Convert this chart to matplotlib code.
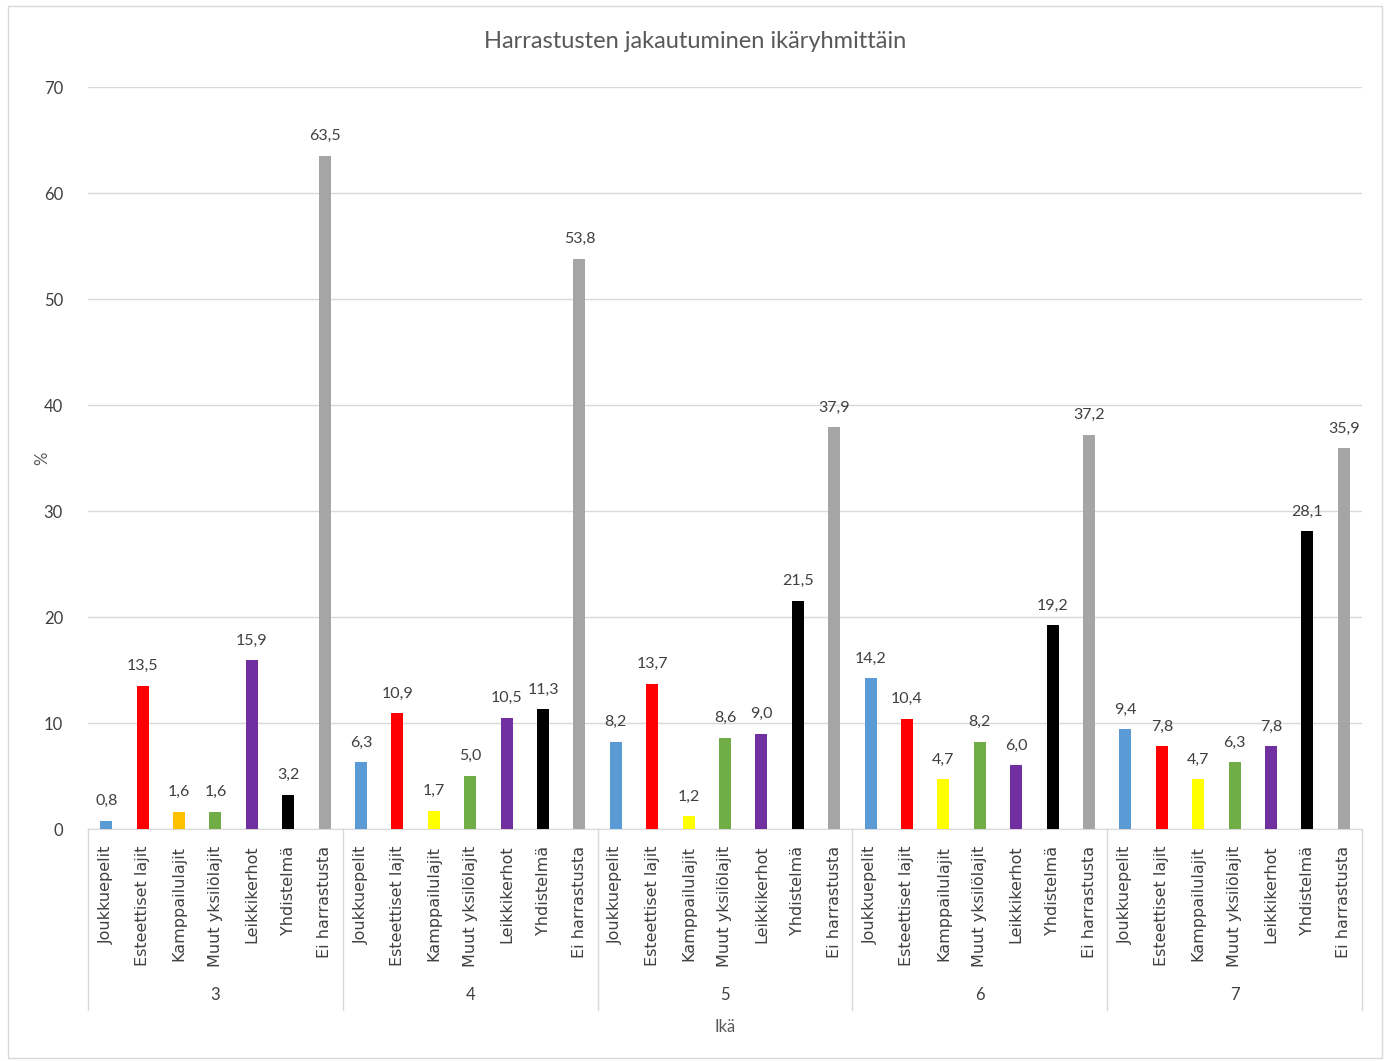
import numpy as np
import matplotlib.pyplot as plt
from matplotlib.patches import Rectangle

ages = ["3", "4", "5", "6", "7"]
hobbies = ["Joukkuepelit", "Esteettiset lajit", "Kamppailulajit", "Muut yksilölajit",
           "Leikkikerhot", "Yhdistelmä", "Ei harrastusta"]
values = {
    "3": [0.8, 13.5, 1.6, 1.6, 15.9, 3.2, 63.5],
    "4": [6.3, 10.9, 1.7, 5.0, 10.5, 11.3, 53.8],
    "5": [8.2, 13.7, 1.2, 8.6, 9.0, 21.5, 37.9],
    "6": [14.2, 10.4, 4.7, 8.2, 6.0, 19.2, 37.2],
    "7": [9.4, 7.8, 4.7, 6.3, 7.8, 28.1, 35.9],
}
colors = ["#5B9BD5", "#FF0000", "#FFFF00", "#70AD47", "#7030A0", "#000000", "#A5A5A5"]
first_group_colors = ["#5B9BD5", "#FF0000", "#FFC000", "#70AD47", "#7030A0", "#000000", "#A5A5A5"]

W, H = 1386, 1061
fig = plt.figure(figsize=(W / 100, H / 100), dpi=100)
fig.patches.append(Rectangle((8 / W, 3 / H), 1374 / W, 1052 / H, transform=fig.transFigure,
                             fill=False, edgecolor="#d9d9d9", lw=1))

ax = fig.add_axes([88 / W, 1 - 829 / H, (1362 - 88) / W, (829 - 87) / H])
ax.set_xlim(0, len(ages) * len(hobbies))
ax.set_ylim(0, 70)

narrow = ["Lato", "DejaVu Sans"]
txt = "#404040"

xs, labels = [], []
for g, age in enumerate(ages):
    cols = first_group_colors if g == 0 else colors
    for i, v in enumerate(values[age]):
        x = g * len(hobbies) + i + 0.5
        ax.bar(x, v, width=0.33, color=cols[i], zorder=3)
        ax.text(x, v + 1.2, f"{v:.1f}".replace(".", ","), ha="center", va="bottom",
                fontsize=11.5, family=narrow, color=txt)
        xs.append(x)
        labels.append(hobbies[i])

ax.set_xticks(xs)
ax.set_xticklabels(labels, rotation=90, fontsize=11.5, color="#404040")
ax.tick_params(axis="x", length=0, pad=12)
ax.set_yticks(range(0, 71, 10))
ax.set_yticklabels([str(t) for t in range(0, 71, 10)], family=narrow, fontsize=12, color=txt)
ax.tick_params(axis="y", length=0, pad=18)
ax.grid(axis="y", color="#d9d9d9", lw=1, zorder=0)
for s in ["top", "right", "left"]:
    ax.spines[s].set_visible(False)
ax.spines["bottom"].set_color("#d9d9d9")

# group separators and group labels
sep_bottom = -(1010 - 829) / (829 - 87) * 70
for g in range(len(ages) + 1):
    ax.plot([g * len(hobbies)] * 2, [0, sep_bottom], color="#d9d9d9", lw=1, clip_on=False)
for g, age in enumerate(ages):
    ax.text(g * len(hobbies) + len(hobbies) / 2, -(995 - 829) / 10.6, age, ha="center",
            va="center", fontsize=12, family=narrow, color=txt)

ax.text(0.5, -(1027 - 829) / (829 - 87), "Ikä", transform=ax.transAxes, ha="center",
        va="center", fontsize=12, family=narrow, color="#595959")
fig.text(42 / W, 1 - 458 / H, "%", rotation=90, ha="center", va="center",
         fontsize=12, family=narrow, color="#595959")
fig.text(695 / W, 1 - 42 / H, "Harrastusten jakautuminen ikäryhmittäin", ha="center",
         va="center", fontsize=17, family=narrow, color="#595959")

fig.savefig("out.png", dpi=100, facecolor="white")
